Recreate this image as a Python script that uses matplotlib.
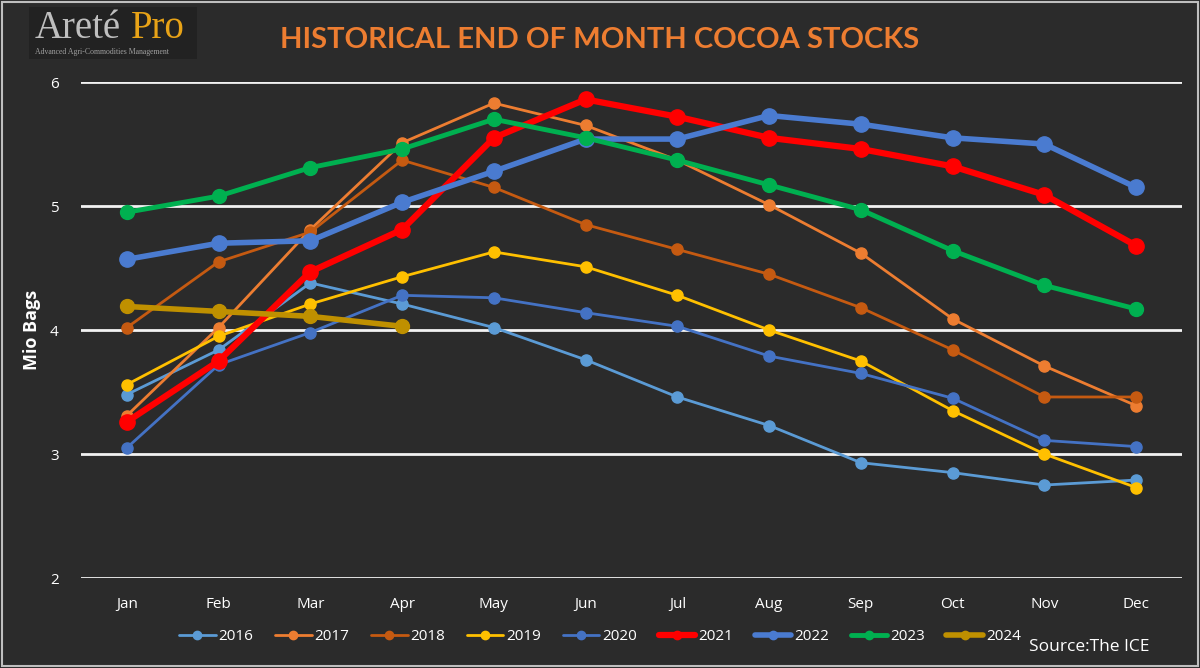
import matplotlib.pyplot as plt
from matplotlib.patches import Rectangle

months = ["Jan", "Feb", "Mar", "Apr", "May", "Jun",
          "Jul", "Aug", "Sep", "Oct", "Nov", "Dec"]

# end of month stocks, million bags
s2016 = [3.48, 3.84, 4.38, 4.21, 4.02, 3.76, 3.46, 3.23, 2.93, 2.85, 2.75, 2.79]
s2017 = [3.31, 4.02, 4.81, 5.51, 5.83, 5.65, 5.37, 5.01, 4.62, 4.09, 3.71, 3.39]
s2018 = [4.02, 4.55, 4.79, 5.37, 5.15, 4.85, 4.65, 4.45, 4.18, 3.84, 3.46, 3.46]
s2019 = [3.56, 3.95, 4.21, 4.43, 4.63, 4.51, 4.28, 4.00, 3.75, 3.35, 3.00, 2.73]
s2020 = [3.05, 3.72, 3.98, 4.28, 4.26, 4.14, 4.03, 3.79, 3.65, 3.45, 3.11, 3.06]
s2021 = [3.26, 3.75, 4.47, 4.81, 5.55, 5.86, 5.72, 5.55, 5.46, 5.32, 5.09, 4.68]
s2022 = [4.57, 4.70, 4.72, 5.03, 5.28, 5.54, 5.54, 5.73, 5.66, 5.55, 5.50, 5.15]
s2023 = [4.95, 5.08, 5.31, 5.46, 5.70, 5.55, 5.37, 5.17, 4.97, 4.64, 4.36, 4.17]
s2024 = [4.19, 4.15, 4.11, 4.03]

years = ["2016", "2017", "2018", "2019", "2020", "2021", "2022", "2023", "2024"]
series = [s2016, s2017, s2018, s2019, s2020, s2021, s2022, s2023, s2024]
colors = ["#5B9BD5", "#ED7D31", "#C55A11", "#FFC000", "#4472C4",
          "#FF0000", "#4A7BD0", "#00B050", "#BF9000"]
widths = [2, 2, 2, 2, 2, 4.5, 4, 3.5, 4]
msizes = [8, 8, 8, 8, 8, 11, 11, 10, 10]

bg = "#2B2B2B"
plt.rcParams['font.family'] = ['Open Sans', 'DejaVu Sans']

fig = plt.figure(figsize=(12, 6.68), dpi=100, facecolor=bg)
ax = fig.add_axes([0.0675, 0.1347, 0.9175, 0.7425], facecolor=bg)

x = list(range(len(months)))
for yr, vals, c, lw, ms in zip(years, series, colors, widths, msizes):
    ax.plot(x[:len(vals)], vals, color=c, lw=lw, marker="o", ms=ms,
            label=yr, solid_capstyle="round")

ax.set_xlim(-0.5, 11.5)
ax.set_ylim(2, 6)
ax.set_yticks([2, 3, 4, 5, 6])
ax.set_xticks(x)
ax.set_xticklabels(months)
ax.grid(axis="y", color="#F2F2F2", lw=2)
ax.set_axisbelow(True)
for sp in ax.spines.values():
    sp.set_visible(False)
ax.tick_params(length=0, colors="white", labelsize=11, pad=14)
ax.tick_params(axis="y", pad=16)
ax.set_ylabel("Mio Bags", color="white", fontsize=13, fontweight="bold",
              labelpad=6)
ax.yaxis.set_label_coords(-0.036, 0.5)

# legend
leg = fig.legend(loc="center", bbox_to_anchor=(0.5, 0.047), ncol=9,
                 frameon=False, fontsize=11, labelcolor="white",
                 handlelength=2.4, columnspacing=1.4, handletextpad=0.2)
for h in leg.legend_handles:
    h.set_markersize(6)

fig.text(0.958, 0.032, "Source:The ICE", color="white", fontsize=12.5,
         ha="right", va="center")

# title
fig.text(0.5, 0.94, "HISTORICAL END OF MONTH COCOA STOCKS", color="#ED7D31",
         fontsize=21, fontweight="bold", ha="center", va="center",
         family=["Lato", "DejaVu Sans"])

# logo
fig.patches.append(Rectangle((0.024, 0.912), 0.14, 0.078, transform=fig.transFigure,
                             facecolor="#222222", edgecolor="none"))
fig.text(0.029, 0.958, "Areté", color="#BFBFBF", fontsize=28,
         family=["Liberation Serif"], ha="left", va="center")
fig.text(0.109, 0.958, "Pro", color="#E8A317", fontsize=28,
         family=["Liberation Serif"], ha="left", va="center")
fig.text(0.029, 0.922, "Advanced Agri-Commodities Management", color="#A0A0A0",
         fontsize=5.6, family=["Liberation Serif"], ha="left", va="center")

# outer border
fig.patches.append(Rectangle((0.002, 0.003), 0.996, 0.994, transform=fig.transFigure,
                             facecolor="none", edgecolor="#BFBFBF", lw=1.5))

fig.savefig("out.png", dpi=100, facecolor=bg)
